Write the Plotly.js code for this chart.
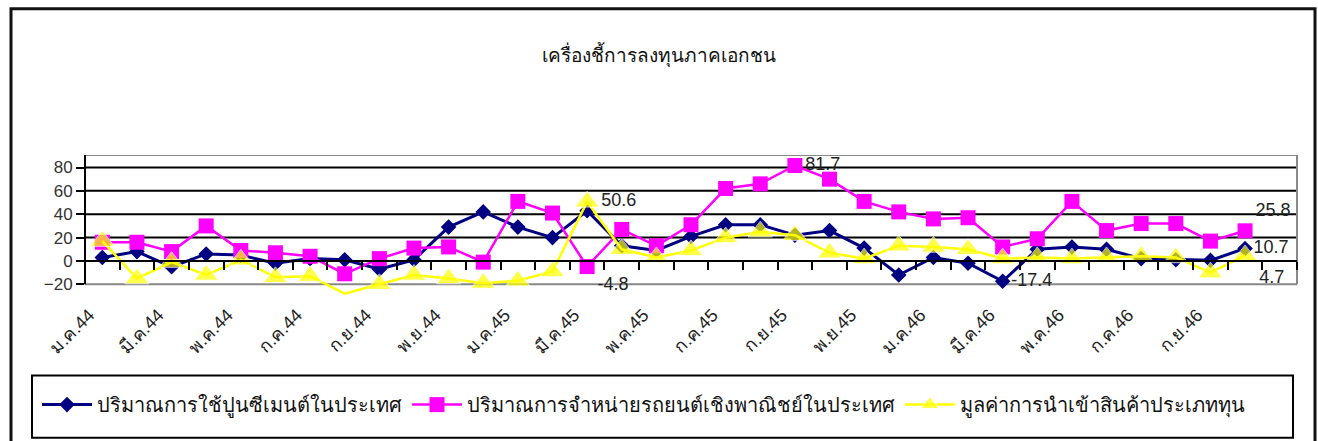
<!DOCTYPE html>
<html>
<head>
<meta charset="utf-8">
<script src="https://cdn.plot.ly/plotly-3.0.1.min.js"></script>
<style>
  html, body { margin: 0; padding: 0; background: #fff; }
  #chart { width: 1318px; height: 441px; }
</style>
</head>
<body>
<div id="chart"></div>
<script>
// ---- data ----
const months = [
  'ม.ค.44','ก.พ.44','มี.ค.44','เม.ย.44','พ.ค.44','มิ.ย.44','ก.ค.44','ส.ค.44','ก.ย.44','ต.ค.44','พ.ย.44','ธ.ค.44',
  'ม.ค.45','ก.พ.45','มี.ค.45','เม.ย.45','พ.ค.45','มิ.ย.45','ก.ค.45','ส.ค.45','ก.ย.45','ต.ค.45','พ.ย.45','ธ.ค.45',
  'ม.ค.46','ก.พ.46','มี.ค.46','เม.ย.46','พ.ค.46','มิ.ย.46','ก.ค.46','ส.ค.46','ก.ย.46','ต.ค.46'
];
const cement  = [3,8,-5,6,5,-2,2,1,-7,1, 29,42,29,20,43,13,9,21,31,31, 22,26,11,-12,3,-2,-17.4,10,12,10, 2,1,0.5,10.7];
const autos   = [16,16,8,30,9,7,4,-11,2,11, 12,-1,51,41,-4.8,27,13,31,62,66, 81.7,70,51,42,36,37,12,19,51,26, 32,32,17,25.8];
const imports = [17,-15,-1,-12,1,-14,-13,-28,-20,-12, -15,-19,-17,-9,50.6,10,3,9,20,25, 22,7,2,13,12,10,2,3,2,3, 4,3,-10,4.7];
const seriesNames = ['ปริมาณการใช้ปูนซีเมนต์ในประเทศ','ปริมาณการจำหน่ายรถยนต์เชิงพาณิชย์ในประเทศ','มูลค่าการนำเข้าสินค้าประเภททุน'];
const labelIdxCement  = [26, 33];
const labelIdxAutos   = [14, 20, 33];
const labelIdxImports = [14, 33];
const yTicks = [-20, 0, 20, 40, 60, 80];
const chartTitle = 'เครื่องชี้การลงทุนภาคเอกชน';

// ---- geometry ----
const W = 1318, H = 441;
const axisMin = -20, yMin = -30, yMax = 90.7;
const L = 85, R = 21, T = 155, B = 145.35;
const plotW = W - L - R, plotH = H - T - B;
const px2x = px => (px - L) / plotW;
const py2y = py => (H - B - py) / plotH;
const nSlots = months.length + 1;

const FONT = 'Liberation Sans, Arial, sans-serif';
const labels = (arr, idx) => arr.map((v, i) => idx.includes(i) ? String(v) : '');

const cementPos  = cement.map(() => 'middle right');
const autosPos   = autos.map((v, i) => i === 14 ? 'bottom right' : (i === 33 ? 'top right' : 'middle right'));
const importsPos = imports.map((v, i) => i === 33 ? 'bottom right' : 'middle right');

const traces = [
  {
    x: months, y: cement, name: seriesNames[0], type: 'scatter', mode: 'lines+markers+text',
    line: { color: '#000080', width: 3 },
    marker: { symbol: 'diamond', size: 12, color: '#000080' },
    text: labels(cement, labelIdxCement), textposition: cementPos,
    textfont: { family: FONT, size: 18, color: '#222' }, cliponaxis: false, hoverinfo: 'x+y'
  },
  {
    x: months, y: autos, name: seriesNames[1], type: 'scatter', mode: 'lines+markers+text',
    line: { color: '#FF00FF', width: 2.5 },
    marker: { symbol: 'square', size: 15, color: '#FF00FF' },
    text: labels(autos, labelIdxAutos), textposition: autosPos,
    textfont: { family: FONT, size: 18, color: '#222' }, cliponaxis: false, hoverinfo: 'x+y'
  },
  {
    x: months, y: imports, name: seriesNames[2], type: 'scatter', mode: 'lines+markers+text',
    line: { color: '#FFFF00', width: 2.5 },
    marker: { symbol: 'triangle-up', size: imports.map(v => v < axisMin ? 0 : 21), color: '#FFFF00' },
    text: labels(imports, labelIdxImports), textposition: importsPos,
    textfont: { family: FONT, size: 18, color: '#222' }, cliponaxis: false, hoverinfo: 'x+y'
  },
  { x: [null], y: [null], xaxis: 'x2', yaxis: 'y', mode: 'markers', showlegend: false, hoverinfo: 'skip' }
];

const shapes = [];
yTicks.filter(v => v > axisMin).forEach(v => shapes.push({
  type: 'line', xref: 'paper', yref: 'y', x0: 0, x1: 1, y0: v, y1: v,
  line: { color: '#000', width: 2 }, layer: 'between'
}));
// plot-area border (grey) and value axis line
shapes.push({ type: 'line', xref: 'paper', yref: 'y', x0: 0, x1: 1, y0: yMax, y1: yMax, line: { color: '#888', width: 2 }, layer: 'between' });
shapes.push({ type: 'line', xref: 'paper', yref: 'y', x0: 0, x1: 1, y0: axisMin, y1: axisMin, line: { color: '#888', width: 2 }, layer: 'between' });
shapes.push({ type: 'line', xref: 'paper', yref: 'y', x0: 1, x1: 1, y0: axisMin, y1: yMax, line: { color: '#888', width: 2 }, layer: 'between' });
shapes.push({ type: 'line', xref: 'paper', yref: 'y', x0: 0, x1: 0, y0: axisMin, y1: yMax, line: { color: '#000', width: 2 }, layer: 'between' });
// legend box & chart border
shapes.push({ type: 'rect', xref: 'paper', yref: 'paper', x0: px2x(32), x1: px2x(1293), y0: py2y(375), y1: py2y(437), line: { color: '#000', width: 2 }, fillcolor: 'rgba(0,0,0,0)' });
shapes.push({ type: 'rect', xref: 'paper', yref: 'paper', x0: px2x(11), x1: px2x(1315), y0: py2y(9), y1: py2y(446), line: { color: '#111', width: 3 }, fillcolor: 'rgba(0,0,0,0)' });

const slotTicks = [];
for (let i = 0; i < nSlots; i++) slotTicks.push(i + 0.5);

const layout = {
  width: W, height: H,
  margin: { l: L, r: R, t: T, b: B, pad: 0 },
  paper_bgcolor: '#fff', plot_bgcolor: '#fff',
  font: { family: FONT, color: '#222' },
  title: {
    text: chartTitle, font: { family: FONT, size: 19, color: '#111' },
    xref: 'container', x: 659 / W, xanchor: 'center',
    yref: 'container', y: 1 - 55 / H, yanchor: 'middle'
  },
  showlegend: true,
  legend: {
    orientation: 'h', x: px2x(37), xanchor: 'left', y: py2y(404), yanchor: 'middle',
    font: { family: FONT, size: 20, color: '#111' }, bgcolor: 'rgba(0,0,0,0)', borderwidth: 0,
    itemwidth: 50
  },
  xaxis: {
    type: 'category', range: [-0.5, nSlots - 0.5], tickmode: 'linear', tick0: 0, dtick: 2,
    tickangle: -45, showgrid: false, zeroline: false, showline: false, ticks: '',
    ticklabelshift: -13, ticklabelstandoff: 4,
    tickfont: { family: FONT, size: 18, color: '#222' }, fixedrange: true
  },
  xaxis2: {
    type: 'linear', overlaying: 'x', anchor: 'free', side: 'bottom',
    position: (0 - yMin) / (yMax - yMin), range: [-0.5, nSlots - 0.5],
    tickmode: 'array', tickvals: slotTicks, showticklabels: false,
    ticks: 'outside', ticklen: 8, tickwidth: 2, tickcolor: '#000',
    showline: true, linecolor: '#000', linewidth: 2, showgrid: false, zeroline: false, fixedrange: true
  },
  yaxis: {
    range: [yMin, yMax], tickmode: 'array', tickvals: yTicks,
    ticks: 'outside', ticklen: 8, tickwidth: 2, tickcolor: '#000',
    showgrid: false, zeroline: false, showline: false,
    tickfont: { family: FONT, size: 17, color: '#333' }, fixedrange: true
  },
  shapes: shapes
};

Plotly.newPlot('chart', traces, layout, { displayModeBar: false, staticPlot: true });
</script>
</body>
</html>
